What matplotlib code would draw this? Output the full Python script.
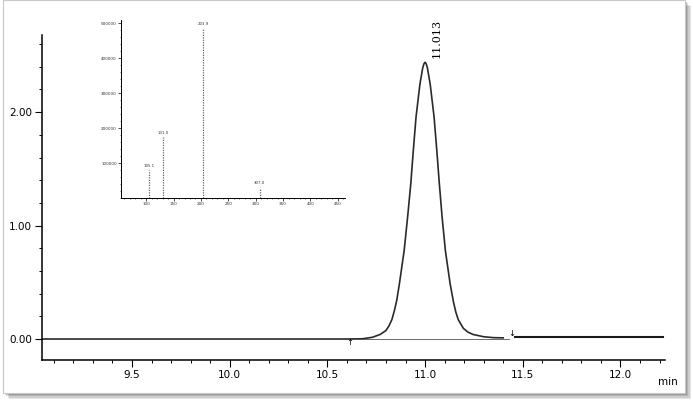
import numpy as np
import matplotlib.pyplot as plt
from matplotlib.patches import Rectangle
from matplotlib.ticker import MultipleLocator

# chromatogram trace (retention time in min, signal)
rt = [9.04, 10.60, 10.68, 10.73, 10.77, 10.80, 10.815, 10.83, 10.843, 10.855,
      10.869, 10.893, 10.911, 10.927, 10.94, 10.954, 10.974, 10.988, 10.994,
      11.0, 11.006, 11.012, 11.026, 11.046, 11.06, 11.073, 11.087, 11.104,
      11.128, 11.145, 11.157, 11.17, 11.196, 11.22, 11.246, 11.30, 11.35, 11.40]
signal = [0.0, 0.0, 0.002, 0.015, 0.04, 0.075, 0.115, 0.17, 0.25, 0.34,
          0.49, 0.78, 1.08, 1.37, 1.665, 1.96, 2.25, 2.39, 2.425,
          2.44, 2.425, 2.39, 2.25, 1.96, 1.665, 1.37, 1.08, 0.78,
          0.49, 0.33, 0.24, 0.17, 0.094, 0.06, 0.04, 0.02, 0.012, 0.01]
tail_rt = [11.46, 12.22]
tail_signal = [0.02, 0.02]
base_rt = [10.62, 11.43]
base_signal = [0.0, 0.0]
peak_label = "11.013"
peak_start, peak_end = 10.616, 11.445

# mass spectrum inset
mz = [105.1, 131.0, 203.9, 307.0]
abund = [80000, 174000, 486000, 30000]
mz_labels = ["105.1", "131.0", "203.9", "307.0"]

W, H = 693, 404
fig = plt.figure(figsize=(W / 100, H / 100), dpi=100)

def px(x0, y0, x1, y1):
    # pixel box -> figure fraction [left, bottom, width, height]
    return [x0 / W, 1 - y1 / H, (x1 - x0) / W, (y1 - y0) / H]

# photo card with a soft drop shadow
for k, a in enumerate([0.10, 0.10, 0.12, 0.15]):
    off = 6 - k * 1.3
    sb = px(3 + off, 0 + off, 685 + off, 393 + off)
    fig.patches.append(Rectangle((sb[0], sb[1]), sb[2], sb[3], transform=fig.transFigure,
                                 facecolor='black', alpha=a, edgecolor='none', zorder=-3))
b = px(3, 0, 685, 393)
fig.patches.append(Rectangle((b[0], b[1]), b[2], b[3], transform=fig.transFigure,
                             facecolor='white', edgecolor='#c8c8c8', lw=0.8, zorder=-2))

ax = fig.add_axes(px(41.7, 35, 665, 360))
ax.patch.set_alpha(0)
ax.plot(rt, signal, color='#2a2a2a', lw=1.2)
ax.plot(tail_rt, tail_signal, color='#1a1a1a', lw=1.5)
ax.plot(base_rt, base_signal, color='#555555', lw=0.6)
ax.set_xlim(9.038, 12.228)
ax.set_ylim(-0.185, 2.68)
for s in ['top', 'right']:
    ax.spines[s].set_visible(False)
for s in ['left', 'bottom']:
    ax.spines[s].set_linewidth(1.1)
ax.set_yticks([0, 1, 2])
ax.set_yticklabels(["0.00", "1.00", "2.00"])
ax.yaxis.set_minor_locator(MultipleLocator(0.2))
ax.set_xticks([9.5, 10.0, 10.5, 11.0, 11.5, 12.0])
ax.set_xticklabels(["9.5", "10.0", "10.5", "11.0", "11.5", "12.0"])
ax.xaxis.set_minor_locator(MultipleLocator(0.1))
ax.tick_params(axis='both', which='major', length=5, width=0.8, labelsize=7.5, pad=2)
ax.tick_params(axis='both', which='minor', length=2.5, width=0.7)
ax.text(12.245, -0.38, "min", fontsize=7.5, ha='center', va='center')
ax.text(11.06, 2.65, peak_label, rotation=90, fontsize=8, family='DejaVu Serif',
        ha='center', va='center')
ax.text(peak_start, -0.03, "\u2191", fontsize=6, ha='center', va='center')
ax.text(peak_end, 0.05, "\u2193", fontsize=6, ha='center', va='center')

# inset mass spectrum
ins = fig.add_axes(px(121, 20, 345, 198))
ins.patch.set_alpha(0)
ins.vlines(mz, 0, abund, colors='#666666', lw=0.9, linestyles=(0, (1, 1)))
for m, a, lab in zip(mz, abund, mz_labels):
    ins.text(m, a + 6000, lab, fontsize=2.8, ha='center', va='bottom', color='#333333')
ins.set_xlim(54, 463)
ins.set_ylim(0, 509000)
for s in ['top', 'right']:
    ins.spines[s].set_visible(False)
for s in ['left', 'bottom']:
    ins.spines[s].set_linewidth(0.7)
ins.set_xticks(np.arange(100, 451, 50))
ins.xaxis.set_minor_locator(MultipleLocator(10))
ins.set_yticks([100000, 200000, 300000, 400000, 500000])
ins.set_yticklabels(["100000", "200000", "300000", "400000", "500000"])
ins.yaxis.set_minor_locator(MultipleLocator(20000))
ins.tick_params(axis='both', which='major', length=2, width=0.5, labelsize=3, pad=1,
                labelcolor='#333333')
ins.tick_params(axis='both', which='minor', length=1, width=0.4)

fig.savefig("out.png", dpi=100)
